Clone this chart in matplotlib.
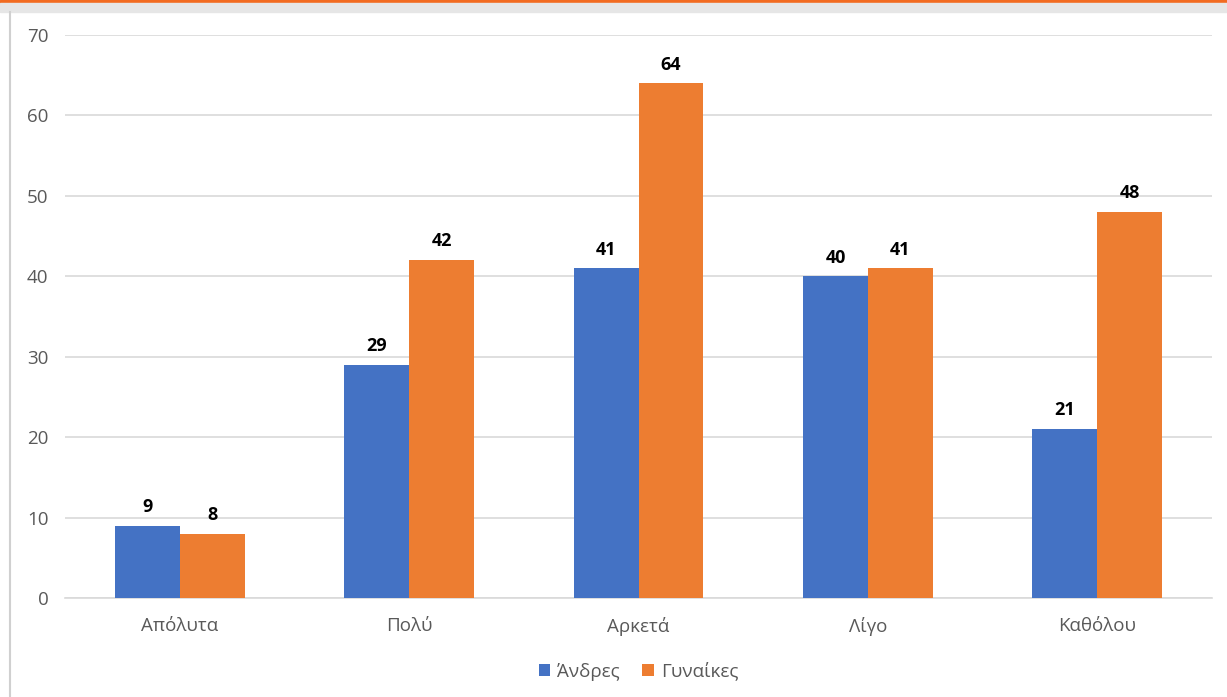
import numpy as np
import matplotlib.pyplot as plt
from matplotlib.patches import Rectangle
from matplotlib.lines import Line2D

categories = ['Απόλυτα', 'Πολύ', 'Αρκετά', 'Λίγο', 'Καθόλου']
andres = [9, 29, 41, 40, 21]
gynaikes = [8, 42, 64, 41, 48]
series_names = ['Άνδρες', 'Γυναίκες']

plt.rcParams['font.family'] = ['Open Sans', 'DejaVu Sans']

blue = '#4472C4'
orange = '#ED7D31'
W, H = 1227, 697

fig = plt.figure(figsize=(W / 100, H / 100), dpi=100)

# screenshot frame: orange top strip, grey band, left border line
fig.patches.append(Rectangle((0, 1 - 3 / H), 1, 3 / H, transform=fig.transFigure,
                             color='#F26B21', zorder=0))
fig.patches.append(Rectangle((0, 1 - 12 / H), 1, 9 / H, transform=fig.transFigure,
                             color='#E6E6E6', zorder=0))
fig.lines.append(Line2D([10 / W, 10 / W], [0, 1 - 12 / H], transform=fig.transFigure,
                        color='#D0D0D0', lw=1.5))

ax = fig.add_axes([65 / W, 99 / H, (1212 - 65) / W, (598 - 35) / H])

x = np.arange(len(categories))
w = 0.283
b1 = ax.bar(x - w / 2, andres, w, color=blue, label=series_names[0], zorder=3)
b2 = ax.bar(x + w / 2, gynaikes, w, color=orange, label=series_names[1], zorder=3)

for bars in (b1, b2):
    for r in bars:
        ax.annotate(str(int(r.get_height())), (r.get_x() + r.get_width() / 2, r.get_height()),
                    xytext=(0, 7), textcoords='offset points', ha='center', va='bottom',
                    fontsize=13, fontweight='bold', color='black')

ax.set_xlim(-0.5, len(categories) - 0.5)
ax.set_ylim(0, 70)
ax.set_yticks(range(0, 71, 10))
ax.set_xticks(x)
ax.set_xticklabels(categories)
ax.grid(axis='y', color='#D9D9D9', lw=1.2, zorder=0)
for s in ['top', 'right', 'left']:
    ax.spines[s].set_visible(False)
ax.spines['bottom'].set_color('#D9D9D9')
ax.spines['bottom'].set_linewidth(1.2)
ax.tick_params(axis='both', length=0, labelsize=13.5, colors='#595959')
ax.tick_params(axis='y', pad=12)
ax.tick_params(axis='x', pad=14)

ax.legend(loc='center', bbox_to_anchor=(0.5, -0.13), ncol=2, frameon=False,
          fontsize=13.5, labelcolor='#595959', handlelength=0.6, handleheight=0.6,
          handletextpad=0.4, columnspacing=1.2)

fig.savefig('out.png', dpi=100)
